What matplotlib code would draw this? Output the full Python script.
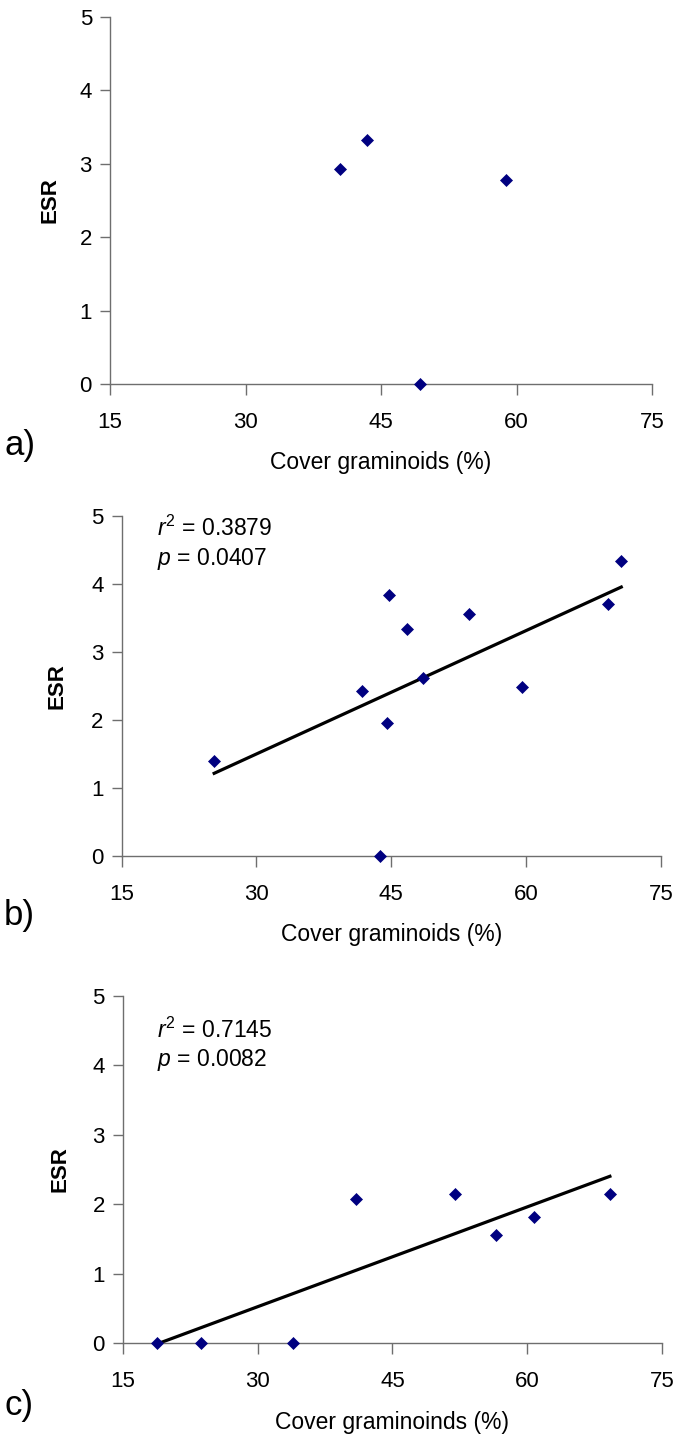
import numpy as np
import matplotlib.pyplot as plt

plt.rcParams['font.family'] = ['Liberation Sans', 'DejaVu Sans']
plt.rcParams['mathtext.fontset'] = 'custom'
plt.rcParams['mathtext.it'] = 'Liberation Sans:italic'
plt.rcParams['mathtext.rm'] = 'Liberation Sans'

# panel a) - no trend line
cover_a = [40.5, 43.5, 58.8, 49.3]
esr_a = [2.93, 3.33, 2.78, 0.0]

# panel b)
cover_b = [25.3, 41.7, 44.5, 44.7, 46.8, 48.5, 53.7, 59.6, 69.1, 70.6, 43.7]
esr_b = [1.39, 2.43, 1.96, 3.84, 3.34, 2.62, 3.56, 2.49, 3.70, 4.34, 0.0]

# panel c)
cover_c = [18.8, 23.7, 33.9, 40.9, 52.0, 56.5, 60.7, 69.2]
esr_c = [0.0, 0.0, 0.0, 2.08, 2.14, 1.56, 1.81, 2.14]

x_ticks = [15, 30, 45, 60, 75]
y_ticks = [0, 1, 2, 3, 4, 5]

W, H = 675, 1437
fig = plt.figure(figsize=(W / 100, H / 100), dpi=100)


def px(x, y):
    return x / W, 1 - y / H


def panel(box, xs, ys, letter, letter_y, xlabel, xlabel_y, esr_x, stats=None, fit=False):
    l, t, r, b = box
    ax = fig.add_axes([l / W, 1 - b / H, (r - l) / W, (b - t) / H])
    ax.set_xlim(15, 75)
    ax.set_ylim(0, 5)
    ax.set_xticks(x_ticks)
    ax.set_yticks(y_ticks)
    for s in ("top", "right"):
        ax.spines[s].set_visible(False)
    for s in ("left", "bottom"):
        ax.spines[s].set_color("#6e6e6e")
        ax.spines[s].set_linewidth(1.0)
    ax.tick_params(axis="x", length=8, width=1, color="#6e6e6e", pad=12, labelsize=16)
    ax.tick_params(axis="y", length=7, width=1, color="#6e6e6e", pad=6, labelsize=16)

    if fit:
        k, c = np.polyfit(xs, ys, 1)
        xx = np.array([min(xs), max(xs)])
        ax.plot(xx, k * xx + c, color="black", lw=2.3, zorder=2)
    ax.plot(xs, ys, "D", color="#000080", ms=6.6, mew=0.5, clip_on=False, zorder=3)

    fig.text(*px(4, letter_y), letter, fontsize=25, va="center", ha="left")
    fig.text(*px((l + r) / 2, xlabel_y), xlabel, fontsize=16.5, va="center", ha="center")
    fig.text(*px(esr_x, (t + b) / 2), "ESR", fontsize=16, fontweight="bold",
             rotation=90, va="center", ha="center")
    if stats:
        r2, p, y1, y2 = stats
        fig.text(*px(157, y1), r"$r^2$ = " + r2, fontsize=16.5, va="center", ha="left")
        fig.text(*px(157, y2), r"$p$ = " + p, fontsize=16.5, va="center", ha="left")
    return ax


panel((110, 17, 652, 384), cover_a, esr_a, "a)", 446,
      "Cover graminoids (%)", 463, 50)
panel((121.6, 515.7, 660.8, 856), cover_b, esr_b, "b)", 915,
      "Cover graminoids (%)", 935, 57,
      stats=("0.3879", "0.0407", 528, 559), fit=True)
panel((122.9, 996, 662, 1343), cover_c, esr_c, "c)", 1405,
      "Cover graminoinds (%)", 1423, 60,
      stats=("0.7145", "0.0082", 1030, 1060), fit=True)

fig.savefig("out.png", dpi=100)
